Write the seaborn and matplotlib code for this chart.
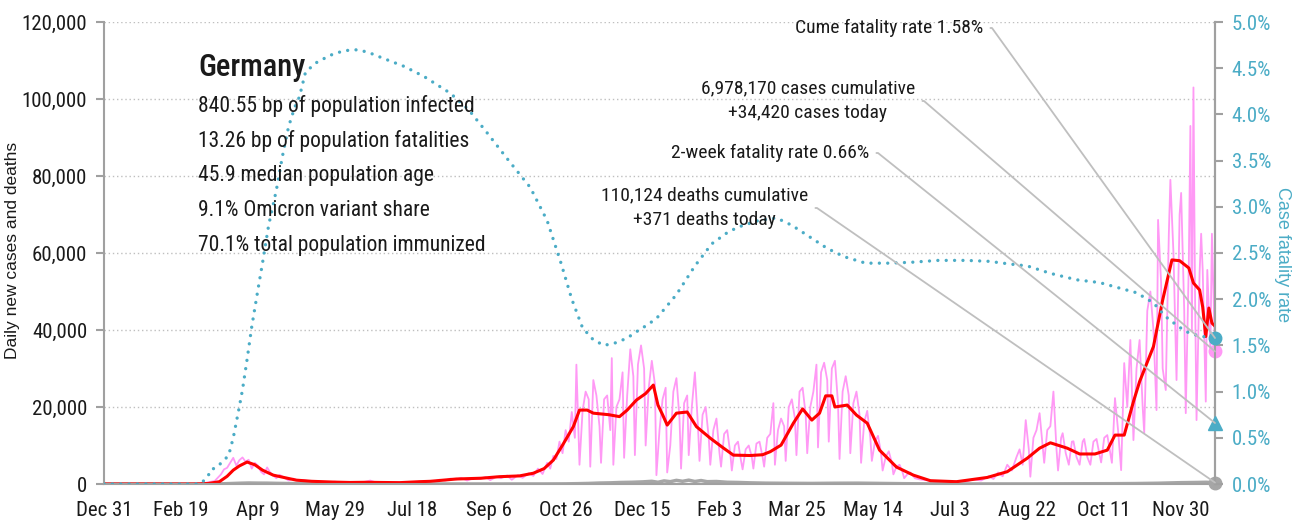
import numpy as np
import pandas as pd
import matplotlib
matplotlib.use("Agg")
import matplotlib.pyplot as plt
from matplotlib.ticker import FuncFormatter
import seaborn as sns

# all x values are days counted from Dec 31, 2019
# daily new cases (pink)
case_day = [0, 55, 60, 65, 72, 76, 78, 80, 82, 84, 86, 88, 90, 92, 94, 96, 98, 100, 102, 104,
            106, 108, 110, 112, 114, 117, 120, 123, 126, 130, 135, 140, 145, 150, 155, 160, 165,
            170, 173, 176, 180, 185, 190, 195, 200, 205, 210, 215, 218, 222, 225, 229, 232, 236,
            240, 244, 248, 251, 255, 258, 262, 265, 269, 272, 276, 279, 282, 285, 288, 290, 292,
            294, 296, 298, 300, 302, 304, 306, 307, 309, 311, 313, 315, 316, 318, 320, 322, 323,
            325, 327, 329, 330, 331, 333, 335, 337, 338, 340, 342, 344, 345, 347, 349, 351, 352,
            354, 356, 358, 359, 361, 363, 365, 366, 368, 370, 372, 374, 375, 377, 379, 380, 382,
            384, 386, 387, 389, 391, 393, 394, 396, 398, 400, 401, 403, 405, 407, 408, 410, 412,
            414, 415, 417, 419, 421, 422, 424, 426, 428, 429, 431, 433, 435, 436, 438, 440, 442,
            443, 445, 447, 449, 450, 452, 454, 456, 457, 459, 461, 463, 464, 466, 468, 470, 471,
            473, 475, 477, 478, 480, 482, 484, 485, 487, 489, 491, 492, 494, 496, 498, 499, 501,
            503, 505, 506, 508, 510, 512, 513, 515, 517, 519, 520, 522, 524, 527, 530, 534, 537,
            540, 545, 550, 555, 560, 565, 570, 575, 578, 581, 584, 587, 590, 593, 595, 597, 599,
            601, 602, 604, 606, 608, 610, 611, 613, 615, 617, 619, 620, 622, 623, 625, 627, 629,
            630, 632, 634, 636, 637, 639, 641, 643, 645, 647, 648, 650, 652, 654, 655, 657, 659,
            661, 663, 665, 667, 669, 671, 673, 675, 676, 678, 680, 682, 684, 685, 687, 688, 690,
            692, 693, 695, 697, 699, 700, 702, 703, 705, 706, 707, 708, 709, 710, 712, 713, 714,
            716, 717, 719, 720, 722]
case_val = [0, 0, 50, 200, 800, 2500, 3800, 4200, 5500, 6800, 4800, 6200, 6900, 5800, 6300, 4000,
            5500, 4800, 3200, 2500, 4300, 3000, 2200, 1500, 2400, 1700, 900, 1400, 900, 1000, 600,
            700, 450, 600, 350, 400, 300, 600, 900, 500, 400, 300, 450, 350, 500, 600, 800, 700,
            1100, 900, 1400, 1200, 1600, 900, 1500, 1300, 1800, 1000, 1900, 1500, 2200, 1100, 2300,
            1600, 2800, 2100, 4000, 2600, 5500, 4000, 7300, 6500, 11000, 8000, 14000, 11000, 18700,
            12000, 31000, 5000, 19000, 24000, 22000, 4500, 27000, 23000, 15000, 5500, 22000, 23000,
            14000, 32700, 5000, 20000, 22000, 29000, 6800, 23000, 35000, 28000, 7500, 31000, 36000,
            30000, 10000, 25000, 32000, 26000, 2300, 14000, 22000, 25000, 3000, 10000, 24000, 27500,
            17000, 4000, 21000, 23000, 7500, 20000, 29000, 15000, 6000, 18000, 20000, 12000, 5000,
            14000, 17000, 8000, 4500, 13000, 14000, 8000, 3500, 10000, 11000, 6000, 3800, 9000,
            10000, 7000, 4000, 10500, 11000, 7000, 4500, 12000, 13000, 21000, 5000, 14000, 17000,
            15000, 6000, 20000, 22000, 17000, 7500, 24000, 25000, 18000, 8000, 20000, 24000, 31000,
            9500, 29000, 31500, 27000, 11000, 30000, 32000, 21000, 6500, 24000, 28000, 23000, 8000,
            21000, 24000, 18000, 5500, 16000, 19000, 12000, 6000, 11000, 12500, 8000, 3500, 7000,
            8500, 5500, 2500, 4500, 5000, 3000, 1500, 2500, 3000, 1500, 1200, 1000, 900, 500, 700,
            400, 800, 600, 1200, 900, 2000, 1300, 3000, 2000, 5000, 3500, 7000, 9000, 5000, 16600,
            9000, 1900, 12000, 14000, 18400, 10000, 5500, 14000, 15000, 24000, 9000, 3500, 12000,
            13200, 8000, 5000, 11000, 11100, 7000, 5000, 11000, 11700, 7000, 5000, 11000, 11700,
            7500, 5600, 12000, 12700, 8000, 5500, 22300, 14000, 3600, 31400, 20000, 37400, 11400,
            30000, 37400, 20000, 13200, 45000, 50000, 40000, 19200, 68600, 52000, 30000, 24400,
            65000, 79000, 60000, 27000, 70000, 75600, 45000, 18400, 58000, 93000, 40000, 103000,
            50000, 16600, 55000, 65000, 55600, 21400, 55600, 35000, 65000, 34420]

# 7-day average of new cases (red)
avg_day = [0, 58, 62, 68, 75, 80, 84, 88, 93, 98, 103, 110, 118, 125, 135, 149, 160, 171, 180,
           192, 205, 212, 229, 245, 257, 270, 279, 286, 292, 298, 305, 309, 314, 318, 328, 335,
           340, 346, 352, 357, 360, 363, 366, 372, 379, 385, 394, 402, 409, 420, 428, 433, 440,
           448, 454, 460, 465, 469, 473, 475, 483, 489, 496, 504, 515, 526, 537, 554, 574, 587,
           600, 608, 615, 626, 634, 644, 652, 657, 663, 669, 673, 682, 688, 694, 699, 705, 708,
           712, 714, 716, 718, 720, 722]
avg_val = [0, 0, 30, 150, 600, 2000, 3600, 4700, 5700, 5000, 3600, 2300, 1600, 1000, 700, 500,
           400, 450, 400, 350, 600, 700, 1300, 1500, 1900, 2100, 2800, 4000, 6200, 10100, 14900,
           19200, 19200, 18400, 18000, 17500, 19200, 21800, 23500, 25700, 20500, 18000, 15300,
           18400, 18700, 14900, 11900, 9500, 7500, 7400, 7600, 8400, 10100, 15800, 19500, 16600,
           18400, 22900, 22900, 20000, 20500, 17900, 15800, 8800, 4400, 2300, 860, 600, 1700,
           3200, 6700, 9300, 10700, 9300, 7800, 7800, 8800, 12700, 12700, 21400, 26600, 35700,
           47800, 58200, 58000, 56100, 52200, 50400, 46000, 38300, 45700, 41800, 41000]

# daily deaths (gray)
death_day = [0, 70, 76, 82, 88, 94, 100, 106, 112, 120, 130, 140, 155, 180, 220, 260, 285, 300,
             308, 315, 322, 329, 336, 343, 350, 356, 360, 364, 368, 372, 376, 380, 384, 388, 392,
             398, 405, 412, 420, 430, 445, 460, 475, 490, 505, 520, 535, 555, 580, 605, 630, 655,
             670, 685, 700, 710, 716, 722]
death_val = [0, 0, 40, 120, 200, 260, 230, 220, 170, 120, 80, 40, 20, 10, 8, 10, 15, 40, 90, 150,
             250, 300, 400, 450, 550, 700, 450, 800, 600, 950, 700, 1000, 650, 900, 600, 650, 450,
             400, 300, 220, 180, 150, 200, 220, 150, 80, 40, 20, 20, 30, 60, 80, 120, 200, 350,
             400, 450, 371]

# case fatality rate, percent (teal, right axis)
cfr_day = [0, 62, 66, 68, 69, 73, 77, 81, 84, 86, 88, 90, 93, 96, 100, 103, 107, 112, 116, 120,
           124, 127, 131, 138, 147, 156, 165, 172, 181, 195, 208, 225, 237, 249, 263, 277, 288,
           297, 304, 311, 318, 325, 333, 340, 348, 354, 360, 372, 384, 395, 405, 412, 425, 437,
           447, 459, 470, 481, 495, 510, 525, 542, 560, 575, 589, 600, 615, 632, 647, 660, 671,
           682, 690, 697, 703, 710, 716, 722]
cfr_val = [0, 0, 0.05, 0.1, 0.15, 0.18, 0.24, 0.31, 0.5, 0.67, 0.84, 1.02, 1.35, 1.7, 2.1, 2.39,
           2.8, 3.18, 3.55, 3.87, 4.08, 4.19, 4.46, 4.56, 4.64, 4.69, 4.70, 4.67, 4.61, 4.52, 4.41,
           4.23, 4.05, 3.80, 3.5, 3.21, 2.85, 2.39, 2.0, 1.69, 1.56, 1.50, 1.53, 1.58, 1.67, 1.73,
           1.81, 2.05, 2.36, 2.60, 2.72, 2.78, 2.85, 2.88, 2.8, 2.67, 2.55, 2.46, 2.39, 2.39, 2.40,
           2.42, 2.42, 2.41, 2.38, 2.36, 2.28, 2.21, 2.18, 2.12, 2.07, 1.96, 1.81, 1.72, 1.65,
           1.61, 1.59, 1.58]

tick_days = [0, 50, 100, 150, 200, 250, 300, 350, 400, 450, 500, 550, 600, 650, 700]
tick_labels = ["Dec 31", "Feb 19", "Apr 9", "May 29", "Jul 18", "Sep 6", "Oct 26", "Dec 15",
               "Feb 3", "Mar 25", "May 14", "Jul 3", "Aug 22", "Oct 11", "Nov 30"]

country = "Germany"
stat_lines = ["840.55 bp of population infected",
              "13.26 bp of population fatalities",
              "45.9 median population age",
              "9.1% Omicron variant share",
              "70.1% total population immunized"]
last_day = 722
cases_cum = 6978170
cases_today = 34420
deaths_cum = 110124
deaths_today = 371
cume_cfr = 1.58
twoweek_cfr = 0.66

PINK = "#ff99f5"
RED = "#ff0000"
TEAL = "#4bacc6"
GRAY = "#a6a6a6"
AXC = "#a0a0a0"
INK = "#1a1a1a"

sns.set_style("white")
plt.rcParams["font.family"] = ["Roboto Condensed", "DejaVu Sans"]
plt.rcParams["text.color"] = INK

W, H = 1308, 525
fig = plt.figure(figsize=(W / 100, H / 100), dpi=100)
ax = fig.add_axes([104 / W, 41 / H, 1111 / W, 462 / H])
ax2 = ax.twinx()

sns.lineplot(x=case_day, y=case_val, ax=ax, color=PINK, lw=1.3, estimator=None, legend=False)
sns.lineplot(x=death_day, y=death_val, ax=ax, color=GRAY, lw=2.5, estimator=None, legend=False)
sns.lineplot(x=avg_day, y=avg_val, ax=ax, color=RED, lw=2.2, estimator=None, legend=False)
sns.lineplot(x=cfr_day, y=cfr_val, ax=ax2, color=TEAL, lw=2.4, estimator=None, legend=False,
             linestyle=(0, (0.01, 2.5)), dash_capstyle="round")

# end-of-series markers
ax.plot(last_day, cases_today, "o", color=PINK, ms=9, clip_on=False, zorder=6)
ax.plot(last_day, deaths_today, "o", color=GRAY, ms=9, clip_on=False, zorder=6)
ax2.plot(last_day, cume_cfr, "o", color=TEAL, ms=9, clip_on=False, zorder=6)
ax2.plot(last_day, twoweek_cfr, "^", color=TEAL, ms=10, clip_on=False, zorder=6)

ax.set_xlim(0, last_day)
ax.set_ylim(0, 120000)
ax2.set_ylim(0, 5)
ax.set_xticks(tick_days)
ax.set_xticklabels(tick_labels)
ax.set_yticks(range(0, 120001, 20000))
ax2.set_yticks(np.arange(0, 5.01, 0.5))
ax.yaxis.set_major_formatter(FuncFormatter(lambda v, _: f"{v:,.0f}"))
ax2.yaxis.set_major_formatter(FuncFormatter(lambda v, _: f"{v:.1f}%"))

ax.yaxis.grid(True, linestyle=(0, (1, 2)), color="#bfbfbf", lw=1)
ax.set_axisbelow(True)

for a in (ax, ax2):
    a.spines["top"].set_visible(False)
    for s in ("left", "right", "bottom"):
        a.spines[s].set_color(AXC)
        a.spines[s].set_linewidth(1.5)
ax2.spines["left"].set_visible(False)
ax2.spines["bottom"].set_visible(False)

ax.tick_params(axis="x", direction="out", length=6, width=1.5, color=AXC, labelsize=15, pad=6,
               labelcolor=INK)
ax.tick_params(axis="y", direction="out", length=6, width=1.5, color=AXC, labelsize=15, pad=6,
               labelcolor=INK)
ax2.tick_params(axis="y", direction="out", length=6, width=1.5, color=AXC, labelsize=15, pad=6,
                labelcolor=TEAL)

ax.set_ylabel("Daily new cases and deaths", fontsize=12.5, color=INK,
              family=["Liberation Sans", "DejaVu Sans"])
ax.yaxis.set_label_coords(-0.076, 0.506)
ax2.set_ylabel("Case fatality rate", fontsize=13, color=TEAL, rotation=270,
               family=["Liberation Sans", "DejaVu Sans"])
ax2.yaxis.set_label_coords(1.068, 0.496)

# country block
fig.text(198 / W, 1 - 68 / H, country, fontsize=22, fontweight="medium", va="center")
for i, line in enumerate(stat_lines):
    fig.text(198 / W, 1 - (106 + 34.8 * i) / H, line, fontsize=15.5, va="center")

# callouts
line_kw = dict(arrowstyle="-", color="#bfbfbf", lw=1.3, shrinkA=3, shrinkB=0, relpos=(1, 0.5),
               connectionstyle="arc,angleA=0,armA=9,angleB=0,armB=0,rad=0")
callouts = [
    (f"Cume fatality rate {cume_cfr:.2f}%", (last_day, cume_cfr), ax2.transData, 983, 28),
    (f"{cases_cum:,} cases cumulative\n+{cases_today:,} cases today", (last_day, cases_today),
     ax.transData, 915, 101),
    (f"2-week fatality rate {twoweek_cfr:.2f}%", (last_day, twoweek_cfr), ax2.transData, 869, 153),
    (f"{deaths_cum:,} deaths cumulative\n+{deaths_today:,} deaths today", (last_day, deaths_today),
     ax.transData, 808, 208),
]
for txt, xy, tr, px, py in callouts:
    ax2.annotate(txt, xy=xy, xycoords=tr, xytext=(px / W, 1 - py / H), textcoords="figure fraction",
                 ha="right", va="center", multialignment="center", fontsize=14,
                 linespacing=1.45, arrowprops=line_kw, zorder=7)

fig.savefig("out.png", dpi=100)
